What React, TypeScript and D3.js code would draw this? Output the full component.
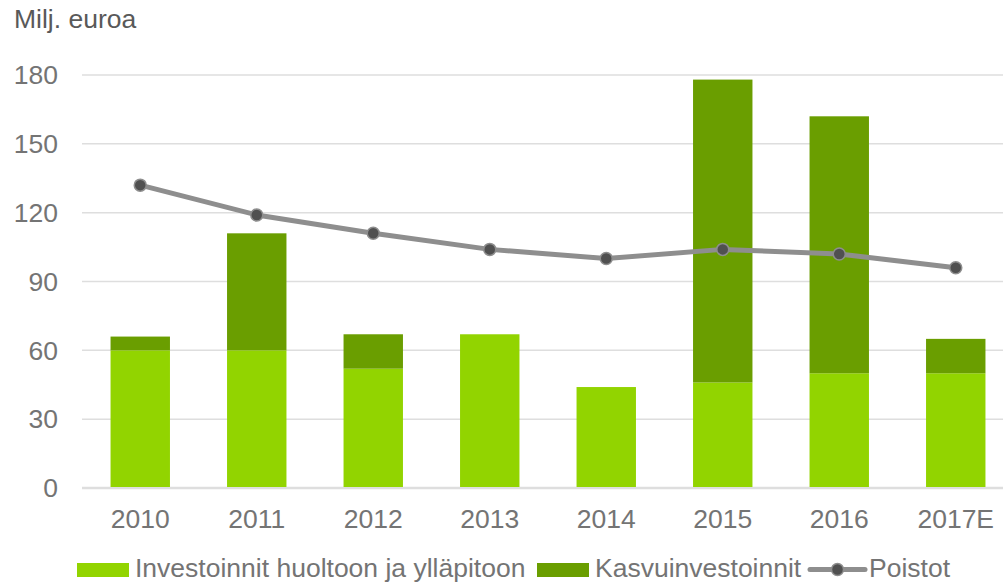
import { useEffect, useRef } from "react";
import * as d3 from "d3";

// Chart data
const years = ["2010", "2011", "2012", "2013", "2014", "2015", "2016", "2017E"];
const maintenance = [60, 60, 52, 67, 44, 46, 50, 50];
const growth = [6, 51, 15, 0, 0, 132, 112, 15];
const depreciation = [132, 119, 111, 104, 100, 104, 102, 96];
const yTicks = [0, 30, 60, 90, 120, 150, 180];

const LIGHT = "#92d400";
const DARK = "#6a9e00";
const LINE = "#8e8e8e";
const DOT = "#505050";
const TEXT = "#747474";
const GRID = "#dedede";
const FONT = "'Liberation Sans', Arial, sans-serif";
const SIZE = 26.5;

const App = () => {
	const svgRef = useRef<SVGSVGElement>(null);

	useEffect(() => {
		const width = 1003;
		const height = 583;
		const left = 82;
		const bandEnd = 1014;

		const svg = d3.select(svgRef.current).attr("width", width).attr("height", height);
		svg.selectAll("*").remove();

		const x = d3.scaleBand().domain(years).range([left, bandEnd]).paddingInner(0.49).paddingOuter(0.245);
		const y = d3.scaleLinear().domain([0, 180]).range([488, 75]);

		// Gridlines
		svg
			.append("g")
			.selectAll("line")
			.data(yTicks)
			.join("line")
			.attr("x1", left)
			.attr("x2", width)
			.attr("y1", (d) => y(d))
			.attr("y2", (d) => y(d))
			.attr("stroke", GRID)
			.attr("stroke-width", (d) => (d === 0 ? 2.5 : 1.5));

		// Y tick labels
		svg
			.append("g")
			.selectAll("text")
			.data(yTicks)
			.join("text")
			.attr("x", 58)
			.attr("y", (d) => y(d))
			.attr("dy", "0.35em")
			.attr("text-anchor", "end")
			.attr("font-family", FONT)
			.attr("font-size", SIZE)
			.attr("fill", TEXT)
			.text((d) => d);

		// Title
		svg
			.append("text")
			.attr("x", 14)
			.attr("y", 28)
			.attr("font-family", FONT)
			.attr("font-size", SIZE)
			.attr("fill", "#595959")
			.text("Milj. euroa");

		// Stacked bars
		const bars = svg.append("g");
		bars
			.selectAll("rect.base")
			.data(years)
			.join("rect")
			.attr("class", "base")
			.attr("x", (d) => x(d)!)
			.attr("width", x.bandwidth())
			.attr("y", (_, i) => y(maintenance[i]))
			.attr("height", (_, i) => y(0) - y(maintenance[i]) - 1)
			.attr("fill", LIGHT);
		bars
			.selectAll("rect.top")
			.data(years.filter((_, i) => growth[i] > 0))
			.join("rect")
			.attr("class", "top")
			.attr("x", (d) => x(d)!)
			.attr("width", x.bandwidth())
			.attr("y", (d) => {
				const i = years.indexOf(d);
				return y(maintenance[i] + growth[i]);
			})
			.attr("height", (d) => {
				const i = years.indexOf(d);
				return y(maintenance[i]) - y(maintenance[i] + growth[i]);
			})
			.attr("fill", DARK);

		// Depreciation line
		const cx = (i: number) => x(years[i])! + x.bandwidth() / 2;
		const line = d3
			.line<number>()
			.x((_, i) => cx(i))
			.y((d) => y(d));
		svg
			.append("path")
			.datum(depreciation)
			.attr("d", line)
			.attr("fill", "none")
			.attr("stroke", LINE)
			.attr("stroke-width", 5)
			.attr("stroke-linejoin", "round");
		svg
			.append("g")
			.selectAll("circle")
			.data(depreciation)
			.join("circle")
			.attr("cx", (_, i) => cx(i))
			.attr("cy", (d) => y(d))
			.attr("r", 6)
			.attr("fill", DOT)
			.attr("stroke", LINE)
			.attr("stroke-width", 1.5);

		// X labels
		svg
			.append("g")
			.selectAll("text")
			.data(years)
			.join("text")
			.attr("x", (d) => x(d)! + x.bandwidth() / 2)
			.attr("y", 528)
			.attr("text-anchor", "middle")
			.attr("font-family", FONT)
			.attr("font-size", SIZE)
			.attr("fill", TEXT)
			.text((d) => d);

		// Legend
		const legend = svg.append("g").attr("font-family", FONT).attr("font-size", SIZE).attr("fill", TEXT);
		legend.append("rect").attr("x", 77).attr("y", 563).attr("width", 52).attr("height", 14).attr("fill", LIGHT);
		legend.append("text").attr("x", 135).attr("y", 577).text("Investoinnit huoltoon ja ylläpitoon");
		legend.append("rect").attr("x", 537).attr("y", 563).attr("width", 52).attr("height", 14).attr("fill", DARK);
		legend.append("text").attr("x", 595).attr("y", 577).text("Kasvuinvestoinnit");
		legend
			.append("line")
			.attr("x1", 810)
			.attr("x2", 865)
			.attr("y1", 569.5)
			.attr("y2", 569.5)
			.attr("stroke", LINE)
			.attr("stroke-width", 5)
			.attr("stroke-linecap", "round");
		legend
			.append("circle")
			.attr("cx", 837.5)
			.attr("cy", 569.5)
			.attr("r", 6)
			.attr("fill", DOT)
			.attr("stroke", LINE)
			.attr("stroke-width", 1.5);
		legend.append("text").attr("x", 869).attr("y", 577).text("Poistot");
	}, []);

	return (
		<div style={{ position: "absolute", left: 0, top: 0 }}>
			<svg ref={svgRef} style={{ display: "block" }}></svg>
		</div>
	);
};

export default App;
